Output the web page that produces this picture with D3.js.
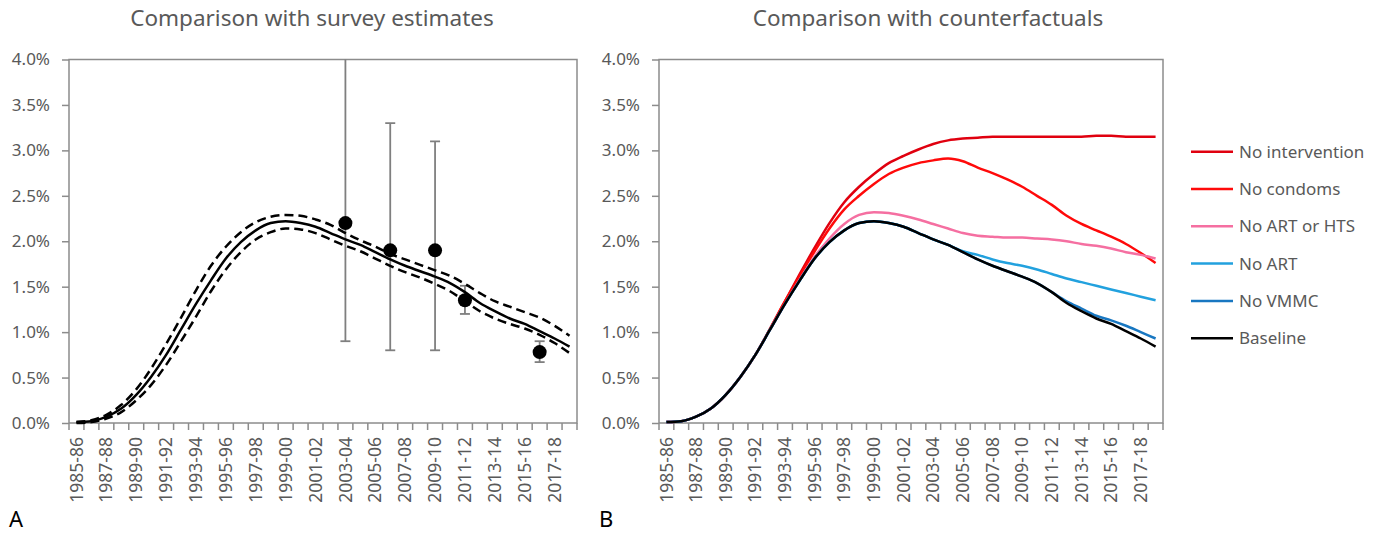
<!DOCTYPE html>
<html>
<head>
<meta charset="utf-8">
<script src="https://cdn.jsdelivr.net/npm/d3@7"></script>
<style>
    body { margin: 0; background: #fff; }
    text { font-family: "Noto Sans", sans-serif; }
</style>
</head>
<body>
<svg width="1380" height="533"></svg>
<script>
    // categories (survey years) and axis labels
    var categories = ["1985-86", "1986-87", "1987-88", "1988-89", "1989-90", "1990-91", "1991-92",
        "1992-93", "1993-94", "1994-95", "1995-96", "1996-97", "1997-98", "1998-99", "1999-00",
        "2000-01", "2001-02", "2002-03", "2003-04", "2004-05", "2005-06", "2006-07", "2007-08",
        "2008-09", "2009-10", "2010-11", "2011-12", "2012-13", "2013-14", "2014-15", "2015-16",
        "2016-17", "2017-18", "2018-19"];
    var labelCats = ["1985-86", "1987-88", "1989-90", "1991-92", "1993-94", "1995-96", "1997-98",
        "1999-00", "2001-02", "2003-04", "2005-06", "2007-08", "2009-10", "2011-12", "2013-14",
        "2015-16", "2017-18"];
    var yTicks = [0, 0.5, 1, 1.5, 2, 2.5, 3, 3.5, 4];

    // prevalence (%) – model baseline with uncertainty bounds
    var baseline = [0.01, 0.02, 0.07, 0.16, 0.31, 0.51, 0.75, 1.03, 1.31, 1.57, 1.81, 1.99, 2.12, 2.2,
        2.22, 2.2, 2.16, 2.09, 2.02, 1.96, 1.88, 1.80, 1.73, 1.67, 1.61, 1.54, 1.44, 1.32, 1.23,
        1.15, 1.09, 1.01, 0.93, 0.84];
    var upper = [0.01, 0.03, 0.09, 0.2, 0.37, 0.6, 0.87, 1.16, 1.46, 1.73, 1.94, 2.1, 2.21, 2.27,
        2.29, 2.28, 2.24, 2.18, 2.09, 2.01, 1.94, 1.86, 1.80, 1.74, 1.68, 1.62, 1.53, 1.43, 1.34,
        1.28, 1.22, 1.16, 1.07, 0.96];
    var lower = [0.0, 0.01, 0.05, 0.12, 0.25, 0.42, 0.64, 0.9, 1.17, 1.45, 1.69, 1.88, 2.02, 2.1,
        2.14, 2.13, 2.09, 2.02, 1.95, 1.89, 1.81, 1.73, 1.66, 1.60, 1.53, 1.45, 1.34, 1.23, 1.15,
        1.09, 1.04, 0.97, 0.88, 0.77];

    // survey estimates
    var surveyCats = ["2003-04", "2006-07", "2009-10", "2011-12", "2016-17"];
    var surveyValues = [2.2, 1.9, 1.9, 1.35, 0.78];
    var surveyLow = [0.9, 0.8, 0.8, 1.2, 0.67];
    var surveyHigh = [4.6, 3.3, 3.1, 1.51, 0.9];

    // counterfactual scenarios
    var noIntervention = [0.01, 0.02, 0.07, 0.16, 0.31, 0.51, 0.75, 1.04, 1.34, 1.64, 1.93, 2.2,
        2.43, 2.6, 2.74, 2.86, 2.94, 3.01, 3.07, 3.11, 3.13, 3.14, 3.15, 3.15, 3.15, 3.15, 3.15,
        3.15, 3.15, 3.16, 3.16, 3.15, 3.15, 3.15];
    var noCondoms = [0.01, 0.02, 0.07, 0.16, 0.31, 0.51, 0.75, 1.04, 1.34, 1.62, 1.89, 2.14, 2.35,
        2.50, 2.63, 2.74, 2.81, 2.86, 2.89, 2.91, 2.88, 2.81, 2.75, 2.68, 2.60, 2.50, 2.40, 2.28,
        2.19, 2.12, 2.05, 1.97, 1.87, 1.76];
    var noArtHts = [0.01, 0.02, 0.07, 0.16, 0.31, 0.51, 0.75, 1.03, 1.31, 1.58, 1.83, 2.03, 2.19,
        2.29, 2.32, 2.31, 2.28, 2.24, 2.19, 2.14, 2.09, 2.06, 2.05, 2.04, 2.04, 2.03, 2.02, 2.0,
        1.97, 1.95, 1.92, 1.88, 1.85, 1.81];
    var noArt = [0.01, 0.02, 0.07, 0.16, 0.31, 0.51, 0.75, 1.03, 1.31, 1.57, 1.81, 1.99, 2.12, 2.2,
        2.22, 2.2, 2.16, 2.09, 2.02, 1.96, 1.89, 1.85, 1.80, 1.76, 1.73, 1.69, 1.64, 1.59, 1.55,
        1.51, 1.47, 1.43, 1.39, 1.35];
    var noVmmc = [0.01, 0.02, 0.07, 0.16, 0.31, 0.51, 0.75, 1.03, 1.31, 1.57, 1.81, 1.99, 2.12, 2.2,
        2.22, 2.2, 2.16, 2.09, 2.02, 1.96, 1.88, 1.80, 1.73, 1.67, 1.61, 1.54, 1.44, 1.34, 1.26,
        1.18, 1.13, 1.07, 1.00, 0.93];

    var scenarioNames = ["No intervention", "No condoms", "No ART or HTS", "No ART", "No VMMC", "Baseline"];
    var scenarioValues = [noIntervention, noCondoms, noArtHts, noArt, noVmmc, baseline];
    var scenarioColors = ["#e0000f", "#ff0a0a", "#f56fa1", "#22a1de", "#1877c1", "#000000"];

    var svg = d3.select("svg");
    var axisColor = "#8c8c8c";
    var textColor = "#595959";
    var plotTop = 59.5, plotBottom = 423;

    function panel(left, right, title, titleX, letter, letterX) {
        var x = d3.scaleBand().domain(categories).range([left, right]);
        var y = d3.scaleLinear().domain([0, 4]).range([plotBottom, plotTop]);
        var g = svg.append("g");

        g.append("rect")
            .attr("x", left).attr("y", plotTop)
            .attr("width", right - left).attr("height", plotBottom - plotTop)
            .attr("fill", "none").attr("stroke", axisColor).attr("stroke-width", 1.5);

        var ya = g.append("g")
            .attr("transform", "translate(" + left + ",0)")
            .call(d3.axisLeft(y).tickValues(yTicks).tickSize(7).tickPadding(12)
                .tickFormat(function(d) { return d3.format(".1f")(d) + "%"; }));
        ya.select(".domain").remove();
        ya.selectAll("line").attr("stroke", axisColor).attr("stroke-width", 1.5);
        ya.selectAll("text").attr("fill", textColor).style("font-size", "17px")
            .style("font-family", '"Noto Sans", sans-serif');

        // ticks sit between categories
        var edges = categories.map(function(c) { return x(c); }).concat([right]);
        g.selectAll(".xtick").data(edges).enter().append("line")
            .attr("x1", function(d) { return d; }).attr("x2", function(d) { return d; })
            .attr("y1", plotBottom).attr("y2", plotBottom + 7)
            .attr("stroke", axisColor).attr("stroke-width", 1.5);

        g.selectAll(".xlabel").data(labelCats).enter().append("text")
            .attr("transform", function(d) {
                return "translate(" + (x(d) + x.bandwidth() / 2) + "," + (plotBottom + 14) + ") rotate(-90)";
            })
            .attr("text-anchor", "end").attr("dy", "0.35em")
            .attr("fill", textColor).style("font-size", "17.5px")
            .text(function(d) { return d; });

        g.append("text").attr("x", titleX).attr("y", 26).attr("text-anchor", "middle")
            .attr("fill", textColor).style("font-size", "22.5px").text(title);
        g.append("text").attr("x", letterX).attr("y", 527)
            .attr("fill", "#000").style("font-size", "22px").text(letter);

        return { g: g, x: x, y: y };
    }

    function lineFor(p) {
        return d3.line()
            .x(function(d, i) { return p.x(categories[i]) + p.x.bandwidth() / 2; })
            .y(function(d) { return p.y(d); })
            .curve(d3.curveMonotoneX);
    }

    // panel A
    var a = panel(69, 577, "Comparison with survey estimates", 312, "A", 9);
    var lineA = lineFor(a);
    svg.append("clipPath").attr("id", "clipA").append("rect")
        .attr("x", 69).attr("y", plotTop).attr("width", 577 - 69).attr("height", plotBottom - plotTop);

    var eb = a.g.append("g").attr("clip-path", "url(#clipA)");
    surveyCats.forEach(function(c, i) {
        var cx = a.x(c) + a.x.bandwidth() / 2;
        eb.append("line").attr("x1", cx).attr("x2", cx)
            .attr("y1", a.y(surveyLow[i])).attr("y2", a.y(surveyHigh[i]))
            .attr("stroke", "#7f7f7f").attr("stroke-width", 1.8);
        [surveyLow[i], surveyHigh[i]].forEach(function(v) {
            eb.append("line").attr("x1", cx - 5).attr("x2", cx + 5)
                .attr("y1", a.y(v)).attr("y2", a.y(v))
                .attr("stroke", "#7f7f7f").attr("stroke-width", 1.8);
        });
    });

    [upper, lower].forEach(function(s) {
        a.g.append("path").attr("d", lineA(s)).attr("fill", "none")
            .attr("stroke", "#000").attr("stroke-width", 2.5).attr("stroke-dasharray", "9,5");
    });
    a.g.append("path").attr("d", lineA(baseline)).attr("fill", "none")
        .attr("stroke", "#000").attr("stroke-width", 2.5);

    a.g.selectAll(".pt").data(surveyCats).enter().append("circle")
        .attr("cx", function(d) { return a.x(d) + a.x.bandwidth() / 2; })
        .attr("cy", function(d, i) { return a.y(surveyValues[i]); })
        .attr("r", 7).attr("fill", "#000");

    // panel B
    var b = panel(659, 1163, "Comparison with counterfactuals", 928, "B", 599);
    var lineB = lineFor(b);
    scenarioValues.forEach(function(s, i) {
        b.g.append("path").attr("d", lineB(s)).attr("fill", "none")
            .attr("stroke", scenarioColors[i]).attr("stroke-width", 2.5);
    });

    var legend = svg.append("g");
    scenarioNames.forEach(function(n, i) {
        var ly = 151.7 + i * 37.3;
        legend.append("line").attr("x1", 1191).attr("x2", 1233).attr("y1", ly).attr("y2", ly)
            .attr("stroke", scenarioColors[i]).attr("stroke-width", 2.5);
        legend.append("text").attr("x", 1239).attr("y", ly).attr("dy", "0.35em")
            .attr("fill", textColor).style("font-size", "17px").text(n);
    });
</script>
</body>
</html>
